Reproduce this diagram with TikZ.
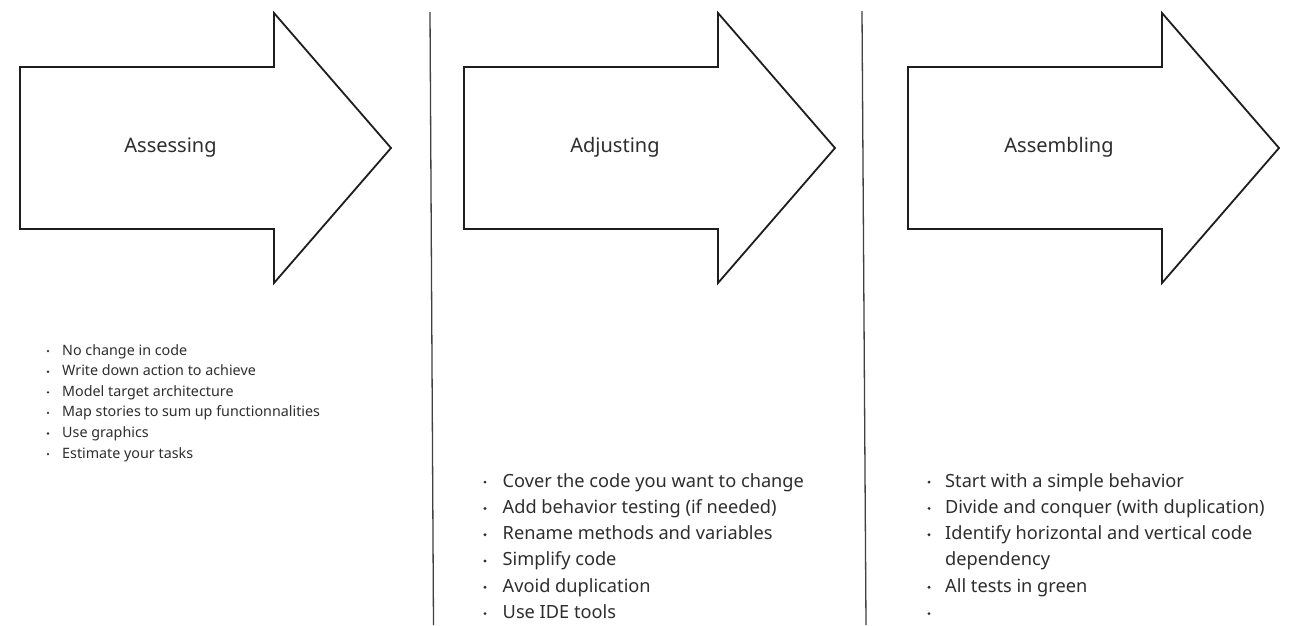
\documentclass[tikz,border=0pt]{standalone}
\usepackage{fontspec}
\setmainfont{Noto Sans}
\definecolor{txt}{HTML}{2E2E2E}
\definecolor{edge}{HTML}{1E1E1E}
\begin{document}
\begin{tikzpicture}[x=1pt,y=-1pt,
  bigarrow/.style={draw=edge,line width=1.8pt,fill=white,line join=miter},
  divider/.style={draw=edge!85,line width=1.3pt},
  title/.style={font=\fontsize{20}{24}\selectfont,text=txt,inner sep=0pt,anchor=base},
  smallitem/.style={font=\fontsize{14.3}{20}\selectfont,text=txt,inner sep=0pt,anchor=base west},
  bigitem/.style={font=\fontsize{18.2}{26}\selectfont,text=txt,inner sep=0pt,anchor=base west}]
\useasboundingbox (0,0) rectangle (1301,625);
\fill[white] (0,0) rectangle (1301,625);
% arrows
\foreach \ox in {0,444,888}{
  \draw[bigarrow] (20+\ox,67) -- (274+\ox,67) -- (274+\ox,13) -- (391+\ox,148)
     -- (274+\ox,283) -- (274+\ox,229) -- (20+\ox,229) -- cycle;
}
\node[title] (t1) at (170.5,152) {Assessing};
\node[title] (t2) at (615,152) {Adjusting};
\node[title] (t3) at (1059,152) {Assembling};
% dividers
\coordinate (d1a) at (430,12); \coordinate (d1b) at (433.5,625);
\coordinate (d2a) at (862,11); \coordinate (d2b) at (866,625);
\draw[divider] (d1a) -- (d1b);
\draw[divider] (d2a) -- (d2b);
% small list
\foreach \t [count=\i] in {No change in code,Write down action to achieve,Model target architecture,Map stories to sum up functionnalities,Use graphics,Estimate your tasks}{
  \node[smallitem] (a\i) at (62,{355+20.6*(\i-1)}) {\t};
  \fill[txt] (48,{355+20.6*(\i-1)-3.9}) circle (1.3);
}
% middle list
\foreach \t [count=\i] in {Cover the code you want to change,Add behavior testing (if needed),Rename methods and variables,Simplify code,Avoid duplication,Use IDE tools}{
  \node[bigitem] (b\i) at (502.5,{487+26.3*(\i-1)}) {\t};
  \fill[txt] (485,{487+26.3*(\i-1)-4.9}) circle (1.6);
}
% right list
\node[bigitem] (c1) at (945,487) {Start with a simple behavior};
\node[bigitem] (c2) at (945,513.3) {Divide and conquer (with duplication)};
\node[bigitem] (c3) at (945,539.6) {Identify horizontal and vertical code};
\node[bigitem] (c4) at (945,565.9) {dependency};
\node[bigitem] (c5) at (945,592.2) {All tests in green};
\foreach \y in {487,513.3,539.6,592.2,618.5}{
  \fill[txt] (929,\y-4.9) circle (1.6);
}
\end{tikzpicture}
\end{document}
